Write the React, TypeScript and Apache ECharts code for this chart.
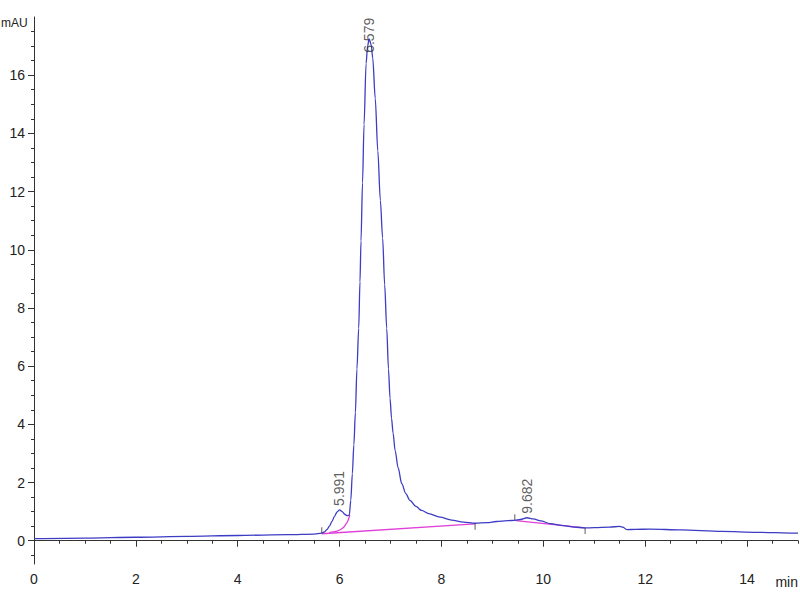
import React, { useEffect, useRef } from "react";
import * as echarts from "echarts";

// Chromatogram trace: [time (min), signal (mAU)]
const trace: [number, number][] = [
  [0, 0.07], [1, 0.09], [2, 0.12], [3, 0.15], [4, 0.18], [5, 0.21], [5.5, 0.23],
  [5.65, 0.26], [5.7, 0.3], [5.75, 0.38], [5.8, 0.5], [5.85, 0.66], [5.9, 0.84],
  [5.95, 0.99], [6.0, 1.06], [6.05, 1.0], [6.1, 0.91], [6.15, 0.86], [6.19, 0.88],
  [6.22, 1.39], [6.25, 2.3], [6.28, 3.3], [6.31, 4.4], [6.34, 5.9], [6.375, 7.3],
  [6.4, 8.9], [6.42, 10.3], [6.45, 12.3], [6.48, 14.3], [6.52, 16.4], [6.55, 17.0],
  [6.58, 17.25], [6.62, 17.05], [6.65, 16.6], [6.7, 15.2], [6.75, 13.4], [6.8, 11.7],
  [6.845, 10.4], [6.885, 8.8], [6.925, 7.3], [6.96, 5.9], [6.99, 4.9], [7.02, 4.2],
  [7.05, 3.7], [7.09, 3.1], [7.15, 2.5], [7.22, 1.96], [7.3, 1.62], [7.38, 1.39],
  [7.5, 1.18], [7.61, 1.04], [7.75, 0.93], [7.97, 0.81], [8.2, 0.71], [8.43, 0.64],
  [8.66, 0.6], [8.9, 0.62], [9.08, 0.66], [9.3, 0.69], [9.44, 0.7], [9.55, 0.73],
  [9.68, 0.79], [9.8, 0.75], [9.95, 0.68], [10.13, 0.59], [10.4, 0.52], [10.6, 0.47],
  [10.82, 0.44], [11.0, 0.45], [11.3, 0.47], [11.5, 0.49], [11.56, 0.47], [11.64, 0.38],
  [11.8, 0.39], [12.1, 0.4], [12.7, 0.37], [13.5, 0.32], [14.2, 0.29], [14.94, 0.26],
  [15, 0.26],
];

// Integration baselines (magenta)
const baselineMain: [number, number][] = [[5.65, 0.24], [8.66, 0.58]];
const baselineSkim: [number, number][] = [
  [5.8, 0.29], [5.95, 0.33], [6.05, 0.42], [6.12, 0.56], [6.17, 0.72], [6.2, 0.88],
];
const baselineLate: [number, number][] = [[9.46, 0.69], [10.82, 0.44]];

// Peak boundary tick marks
const ticksAbove: [number, number][] = [[5.65, 0.26], [9.44, 0.7]];
const ticksBelow: [number, number][] = [[8.66, 0.58], [10.82, 0.44]];

// Peak annotations
const peakTimes = [5.991, 6.579, 9.682];
const peakHeights = [1.06, 17.25, 0.79];
const peakLabels = ["5.991", "6.579", "9.682"];
const peakLabelGap = [4, -14, 4];

// Axis ticks
const xMajor = [0, 2, 4, 6, 8, 10, 12, 14];
const xMinor: number[] = [];
for (let i = 0; i <= 30; i++) { if (i % 4 !== 0) xMinor.push(i / 2); }
const yMajor = [0, 2, 4, 6, 8, 10, 12, 14, 16];
const yMinor: number[] = [];
for (let i = -1; i <= 36; i++) { if (i % 4 !== 0) yMinor.push(i / 2); }

const FONT = "'Liberation Sans Narrow', 'Liberation Sans', Arial, sans-serif";
const AXIS_COLOR = "#333";

export default function App() {
  const ref = useRef<HTMLDivElement>(null);
  useEffect(() => {
    const chart = echarts.init(ref.current!, null, { renderer: "svg" });
    chart.setOption({
      animation: false,
      backgroundColor: "#fff",
      grid: { left: 34, right: 2, top: 17, bottom: 36 },
      xAxis: [
        {
          type: "value", min: 0, max: 15,
          axisLine: { show: true, lineStyle: { color: AXIS_COLOR, width: 1 } },
          axisTick: { show: true, customValues: xMajor, length: 6, lineStyle: { color: AXIS_COLOR } },
          axisLabel: { customValues: xMajor, fontSize: 14, color: "#222", fontFamily: FONT, margin: 8 },
          splitLine: { show: false },
        },
        {
          type: "value", min: 0, max: 15, position: "bottom",
          axisLine: { show: false },
          axisTick: { show: true, customValues: xMinor, length: 3, lineStyle: { color: AXIS_COLOR } },
          axisLabel: { show: false },
          splitLine: { show: false },
        },
      ],
      yAxis: [
        {
          type: "value", min: -0.8, max: 18,
          axisLine: { show: true, lineStyle: { color: AXIS_COLOR, width: 1 } },
          axisTick: { show: true, customValues: yMajor, length: 6, lineStyle: { color: AXIS_COLOR } },
          axisLabel: { customValues: yMajor, fontSize: 14, color: "#222", fontFamily: FONT, margin: 9 },
          splitLine: { show: false },
        },
        {
          type: "value", min: -0.8, max: 18, position: "left",
          axisLine: { show: false },
          axisTick: { show: true, customValues: yMinor, length: 3, lineStyle: { color: AXIS_COLOR } },
          axisLabel: { show: false },
          splitLine: { show: false },
        },
      ],
      graphic: [
        { type: "text", left: 1, top: 17, style: { text: "mAU", fontSize: 12, fontFamily: FONT, fill: "#222" } },
        { type: "text", right: 2, top: 575, style: { text: "min", fontSize: 14, fontFamily: FONT, fill: "#222" } },
      ],
      series: [
        {
          type: "line", data: baselineMain, showSymbol: false, symbol: "none",
          lineStyle: { color: "#e040d8", width: 1.3 }, z: 2,
        },
        {
          type: "line", data: baselineSkim, showSymbol: false, symbol: "none", smooth: true,
          lineStyle: { color: "#e040d8", width: 1.3 }, z: 2,
        },
        {
          type: "line", data: baselineLate, showSymbol: false, symbol: "none",
          lineStyle: { color: "#e040d8", width: 1.3 }, z: 2,
        },
        {
          type: "line", data: trace, showSymbol: false, symbol: "none",
          smooth: 0.3, smoothMonotone: "x",
          lineStyle: { color: "#3c3cc4", width: 1.3 }, z: 3,
        },
        {
          type: "scatter", data: ticksAbove, symbol: "rect", symbolSize: [1, 6], symbolOffset: [0, -3],
          itemStyle: { color: "#333" }, z: 4,
        },
        {
          type: "scatter", data: ticksBelow, symbol: "rect", symbolSize: [1, 6], symbolOffset: [0, 3],
          itemStyle: { color: "#333" }, z: 4,
        },
        {
          type: "scatter", symbolSize: 0, z: 5,
          data: peakTimes.map((t, i) => ({
            value: [t, peakHeights[i]],
            name: peakLabels[i],
            label: { distance: peakLabelGap[i] },
          })),
          label: {
            show: true, position: "top", rotate: 90, align: "left", verticalAlign: "middle",
            formatter: (p: any) => p.name, fontSize: 14, color: "#333",
            fontFamily: "'Liberation Sans', Arial, sans-serif",
          },
        },
      ],
    });
    return () => chart.dispose();
  }, []);
  return (
    <div
      ref={ref}
      style={{ position: "fixed", left: 0, top: 0, width: 800, height: 600, background: "#fff" }}
    />
  );
}
